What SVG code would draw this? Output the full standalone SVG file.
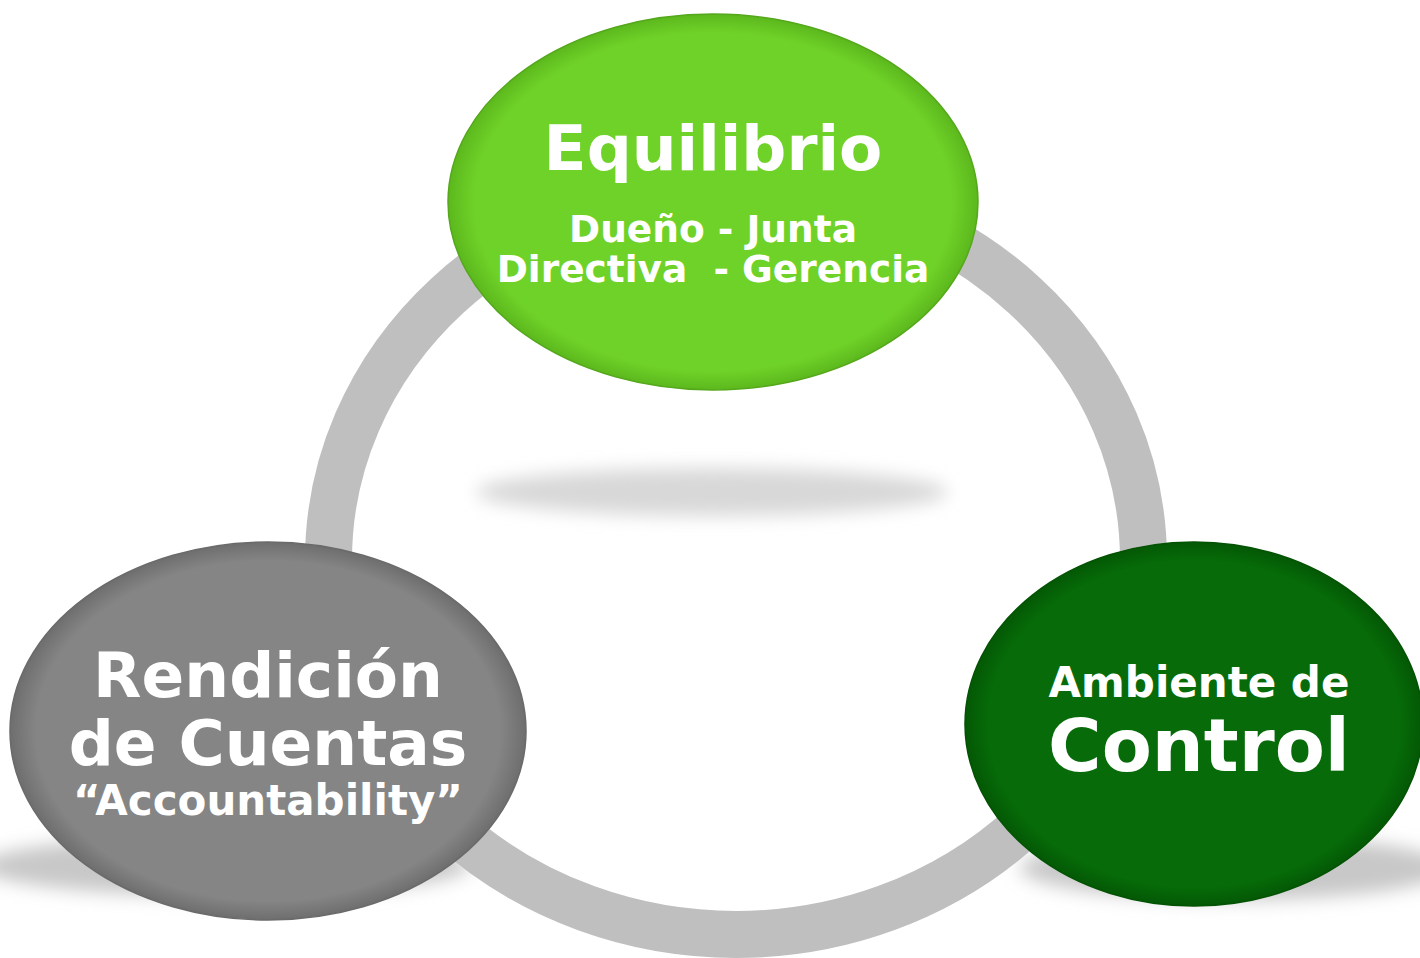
<svg xmlns="http://www.w3.org/2000/svg" width="1420" height="958" viewBox="0 0 1420 958">
<style>
.t{font-family:"DejaVu Sans","Liberation Sans",sans-serif;font-weight:bold;fill:#ffffff;text-anchor:middle}
.sh{filter:url(#blur)}
</style>
<defs>
<filter id="blur" x="-30%" y="-200%" width="160%" height="500%"><feGaussianBlur stdDeviation="9"/></filter>
<radialGradient id="gTop" cx="50%" cy="50%" r="50%"><stop offset="0.9" stop-color="#6fd228"/><stop offset="1" stop-color="#5cb81d"/></radialGradient>
<radialGradient id="gLeft" cx="50%" cy="50%" r="50%"><stop offset="0.9" stop-color="#858585"/><stop offset="1" stop-color="#6e6e6e"/></radialGradient>
<radialGradient id="gRight" cx="50%" cy="50%" r="50%"><stop offset="0.9" stop-color="#066b08"/><stop offset="1" stop-color="#045805"/></radialGradient>
</defs>
<rect width="1420" height="958" fill="#ffffff"/>
<g id="shadows">
<ellipse class="sh" cx="712" cy="492" rx="236" ry="24" fill="#d8d8d8"/>
<ellipse class="sh" cx="225" cy="866" rx="245" ry="30" fill="#c8c8c8"/>
<ellipse class="sh" cx="1235" cy="868" rx="215" ry="32" fill="#c8c8c8"/>
</g>
<g id="connectors">
<ellipse cx="736" cy="560" rx="407.5" ry="374.5" fill="none" stroke="#bfbfbf" stroke-width="47"/>
</g>
<g id="node-equilibrio">
<ellipse cx="713" cy="202" rx="265" ry="188" fill="url(#gTop)" stroke="#55a81c" stroke-width="1.5"/>
<text class="t" x="713" y="170" font-size="63">Equilibrio</text>
<text class="t" x="713" y="242" font-size="37.5">Dueño - Junta</text>
<text class="t" x="713" y="282" font-size="37.5" xml:space="preserve">Directiva  - Gerencia</text>
</g>
<g id="node-rendicion">
<ellipse cx="268" cy="731" rx="258" ry="189" fill="url(#gLeft)" stroke="#6a6a6a" stroke-width="1.5"/>
<text class="t" x="268" y="697" font-size="63">Rendición</text>
<text class="t" x="268" y="765" font-size="63">de Cuentas</text>
<text class="t" x="268" y="815" font-size="42">“Accountability”</text>
</g>
<g id="node-control">
<ellipse cx="1194" cy="724" rx="229" ry="182" fill="url(#gRight)" stroke="#045304" stroke-width="1.5"/>
<text class="t" x="1199" y="697" font-size="42">Ambiente de</text>
<text class="t" x="1199" y="771" font-size="73">Control</text>
</g>
</svg>
